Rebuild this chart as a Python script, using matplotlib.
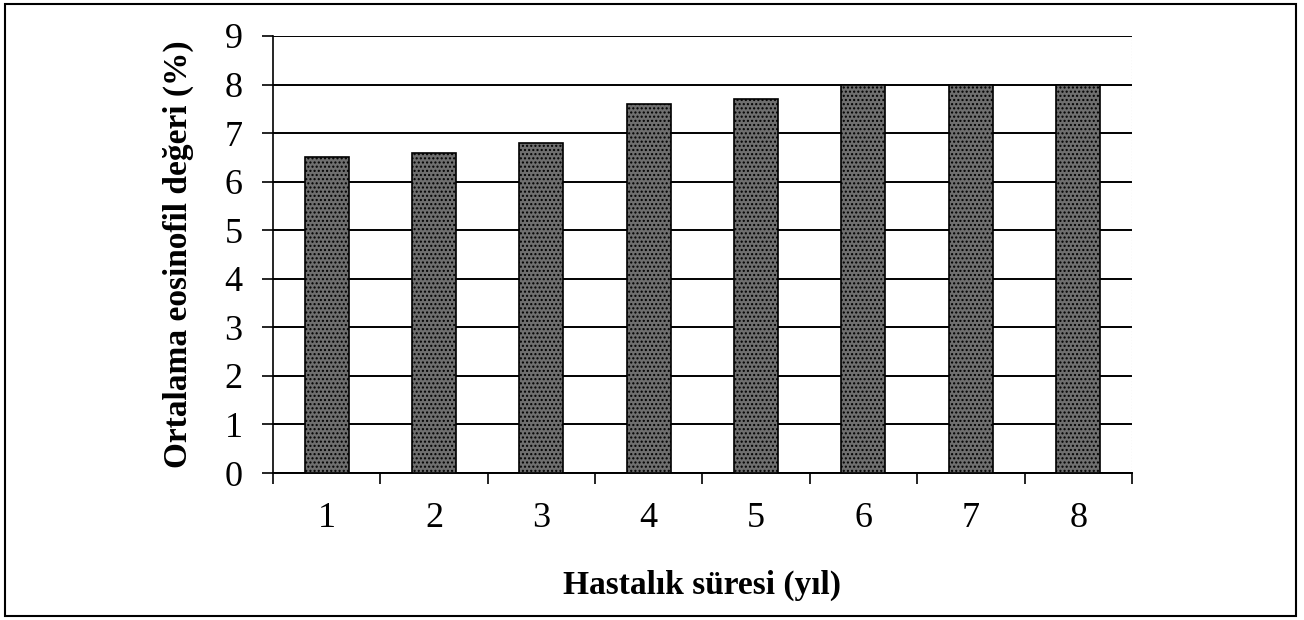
import numpy as np
import matplotlib.pyplot as plt
import matplotlib.patches as mpatches

years = ['1', '2', '3', '4', '5', '6', '7', '8']
eosinofil = [6.5, 6.6, 6.8, 7.6, 7.7, 8.0, 8.0, 8.0]
y_ticks = list(range(0, 10))

plt.rcParams['font.family'] = ['Liberation Serif', 'DejaVu Serif']

fig = plt.figure(figsize=(13.04, 6.2), dpi=100)
fig.patch.set_facecolor('white')
ax = fig.add_axes([0.2094, 0.237, 0.6586, 0.705])

x = np.arange(1, len(years) + 1)
ax.set_axisbelow(True)
ax.yaxis.grid(True, color='black', linewidth=1.4)
ax.bar(x, eosinofil, width=0.41, color='#6f6f6f', edgecolor='black',
       linewidth=1.2, hatch='....', zorder=3)

ax.set_xlim(0.5, len(years) + 0.5)
ax.set_ylim(0, 9)
ax.set_yticks(y_ticks)
ax.set_yticklabels([str(t) for t in y_ticks], fontsize=26)
ax.set_xticks(x)
ax.set_xticklabels(years, fontsize=26)
ax.set_xticks(np.arange(0.5, len(years) + 1), minor=True)
ax.tick_params(axis='x', which='major', length=0, pad=21)
ax.tick_params(axis='x', which='minor', length=8, width=1.2, direction='out')
ax.tick_params(axis='y', length=8, width=1.2, direction='out', pad=14)

for s in ['top', 'right']:
    ax.spines[s].set_visible(False)
ax.spines['left'].set_linewidth(1.2)
ax.spines['bottom'].set_linewidth(1.4)
ax.axvline(len(years) + 0.5, color='#999999', linewidth=0.8, linestyle=':')

ax.set_ylabel('Ortalama eosinofil değeri (%)', fontsize=24, fontweight='bold', labelpad=22)
ax.set_xlabel('Hastalık süresi (yıl)', fontsize=24, fontweight='bold', labelpad=25)

fig.patches.append(mpatches.Rectangle((0.004, 0.006), 0.99, 0.988, transform=fig.transFigure,
                                      fill=False, edgecolor='black', linewidth=1.5))

fig.savefig('out.png', dpi=100)
